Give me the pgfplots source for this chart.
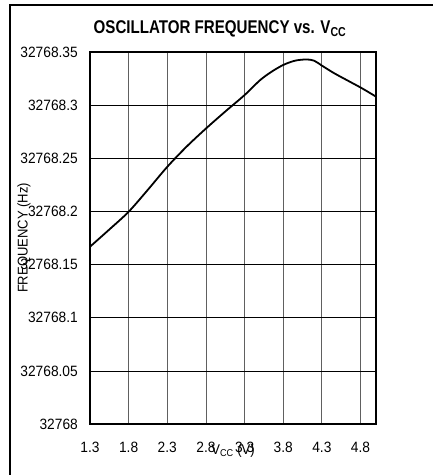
\documentclass[border=0pt]{standalone}
\usepackage{fontspec}
\setmainfont{Liberation Sans}[FakeStretch=0.92]
\newfontfamily\titlefont{Liberation Sans}[FakeStretch=0.82]
\newcommand\tickfont{\fontsize{15}{16}\selectfont}
\usepackage{pgfplots}
\pgfplotsset{compat=1.18}
\begin{document}
\begin{tikzpicture}
\useasboundingbox (0bp,0bp) rectangle (433bp,-475bp);
\draw[line width=1.2bp] (10bp,-480bp) -- (10bp,-5bp) -- (440bp,-5bp);
\node[anchor=base, inner sep=0] at (220bp,-33bp) {\titlefont\fontsize{18.5}{20}\selectfont\bfseries OSCILLATOR FREQUENCY vs. V\textsubscript{CC}};
\begin{axis}[
  at={(90bp,-424bp)}, anchor=south west,
  scale only axis, width=286bp, height=372bp,
  xmin=1.3, xmax=5.0, ymin=0, ymax=0.35,
  xtick={1.3,1.8,2.3,2.8,3.3,3.8,4.3,4.8},
  xticklabels={1.3,1.8,2.3,2.8,3.3,3.8,4.3,4.8},
  ytick={0,0.05,0.1,0.15,0.2,0.25,0.3,0.35},
  yticklabels={32768,32768.05,32768.1,32768.15,32768.2,32768.25,32768.3,32768.35},
  major tick length=0pt,
  xmajorgrids, ymajorgrids,
  x grid style={gray!75!black, line width=0.8bp},
  y grid style={black, line width=0.7bp},
  axis line style={line width=1.8bp},
  xticklabel style={font=\tickfont, inner sep=0pt, anchor=north, yshift=-18bp},
  yticklabel style={font=\tickfont, inner sep=0pt, anchor=east, xshift=-12bp},
  xlabel={V\textsubscript{CC} (V)},
  ylabel={FREQUENCY (Hz)},
  label style={font=\fontsize{14.2}{16}\selectfont},
  xlabel style={at={(axis description cs:0.5,0)}, anchor=north, inner sep=0pt, yshift=-20bp},
  ylabel style={at={(axis description cs:0,0.5)}, anchor=center, inner sep=0pt, yshift=66bp},
]
\addplot[black, line width=1.8bp, smooth, tension=0.5] coordinates {
(1.3,0.1668) (1.55,0.1830) (1.8,0.1997) (2.05,0.2205) (2.3,0.2420)
(2.55,0.2610) (2.8,0.2780) (3.05,0.2940) (3.3,0.3095) (3.5,0.3235)
(3.65,0.3315) (3.8,0.3378) (3.95,0.3418) (4.1,0.3430) (4.2,0.3418)
(4.3,0.3372) (4.46,0.3300) (4.65,0.3225) (4.82,0.3158) (5.0,0.3080)
};
\end{axis}
\end{tikzpicture}
\end{document}
